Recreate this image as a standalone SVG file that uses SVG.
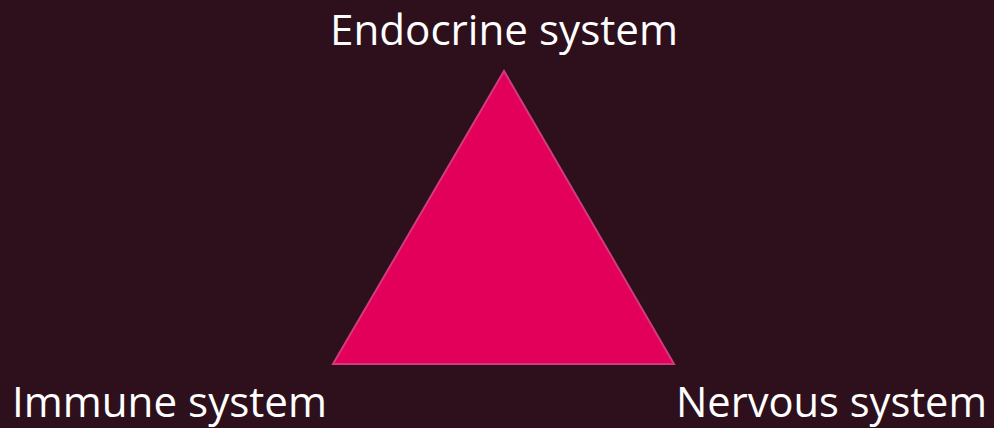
<svg xmlns="http://www.w3.org/2000/svg" width="994" height="428" viewBox="0 0 994 428">
<style>
.lbl{font-family:"Open Sans","Liberation Sans",sans-serif;font-size:42px;fill:#ffffff}
</style>
<rect width="994" height="428" fill="#2e101d"/>
<g id="triangle">
<polygon points="504,71 333,364 674,364" fill="#e2005a" stroke="#d33a7c" stroke-width="2" stroke-linejoin="miter"/>
</g>
<g id="endocrine"><text class="lbl" x="330" y="45" textLength="348" lengthAdjust="spacingAndGlyphs">Endocrine system</text></g>
<g id="immune"><text class="lbl" x="12" y="417" textLength="315" lengthAdjust="spacingAndGlyphs">Immune system</text></g>
<g id="nervous"><text class="lbl" x="676" y="417" textLength="311" lengthAdjust="spacingAndGlyphs">Nervous system</text></g>
<g id="connectors"/>
</svg>
